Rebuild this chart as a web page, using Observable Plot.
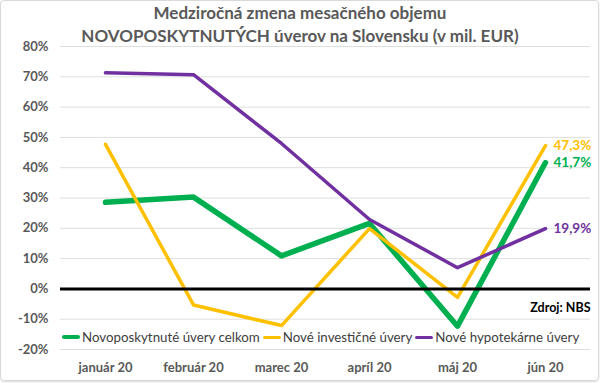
<!DOCTYPE html>
<html><head><meta charset="utf-8">
<script src="https://cdn.jsdelivr.net/npm/d3@7"></script>
<script src="https://cdn.jsdelivr.net/npm/@observablehq/plot@0.6"></script>
<style>
body{margin:0;background:#fff;font-family:Lato,sans-serif}
#wrap{position:relative;width:600px;height:383px;overflow:hidden;background:#fff}
#frame{position:absolute;left:0;top:0;width:597px;height:379px;border:1px solid #d9d9d9;border-radius:4px;box-shadow:0 1px 2px rgba(0,0,0,0.15);pointer-events:none}
#chart{position:absolute;left:0;top:0}
#title{position:absolute;left:0;top:1px;width:600px;text-align:center;font-weight:bold;font-size:17px;line-height:23px;color:#595959}
#legend{position:absolute;left:62px;top:329px;display:flex;align-items:center;font-size:13.3px;color:#404040;white-space:nowrap}
.item{display:flex;align-items:center;margin-right:3px}
.sw{display:inline-block;width:18px;border-radius:2px;margin-right:2px}
</style></head><body>
<div id="wrap"><div id="chart"></div><div id="title"></div><div id="legend"></div><div id="frame"></div></div>
<script>
const titleLines = ["Medziročná zmena mesačného objemu", "NOVOPOSKYTNUTÝCH úverov na Slovensku (v mil. EUR)"];
const months = ["január 20", "február 20", "marec 20", "apríl 20", "máj 20", "jún 20"];
const seriesNames = ["Novoposkytnuté úvery celkom", "Nové investičné úvery", "Nové hypotekárne úvery"];
const celkom = [28.6, 30.3, 10.9, 21.6, -12.3, 41.7];
const investicne = [47.7, -5.3, -12.1, 19.9, -2.8, 47.3];
const hypotekarne = [71.3, 70.7, 48.0, 22.9, 7.0, 19.9];
const yTicks = [-20, -10, 0, 10, 20, 30, 40, 50, 60, 70, 80];
const source = "Zdroj: NBS";

const colors = ["#00B050", "#FFC000", "#7030A0"];
const lineWidths = [5.5, 3.5, 3.5];
const values = [celkom, investicne, hypotekarne];

const rows = [];
seriesNames.forEach((s, i) => values[i].forEach((v, j) => rows.push({series: s, month: months[j], value: v})));
const last = months[months.length - 1];
const fmt = v => v.toFixed(1).replace(".", ",") + "%";

document.getElementById("title").innerHTML = titleLines.map(t => `<div>${t}</div>`).join("");
document.getElementById("legend").innerHTML = seriesNames.map((s, i) =>
  `<span class="item"><span class="sw" style="background:${colors[i]};height:${i === 0 ? 4 : 3}px"></span>${s}</span>`).join("");

const chart = Plot.plot({
  width: 600, height: 383,
  marginTop: 46, marginBottom: 34, marginLeft: 60, marginRight: 10,
  style: {fontFamily: "Lato, sans-serif", background: "transparent", overflow: "visible"},
  x: {type: "point", domain: months, padding: 0.5, label: null},
  y: {domain: [-20, 80], label: null},
  color: {domain: seriesNames, range: colors},
  marks: [
    Plot.ruleY(yTicks.filter(t => t !== 0), {stroke: "#dedede", strokeWidth: 1}),
    Plot.axisY({ticks: yTicks, tickSize: 0, tickPadding: 12, tickFormat: d => d + "%", fontWeight: "bold", fontSize: 13, fill: "#595959", label: null}),
    Plot.axisX({tickSize: 0, tickPadding: 13, fontWeight: "bold", fontSize: 13, fill: "#595959", label: null}),
    ...seriesNames.map((s, i) => Plot.line(rows.filter(d => d.series === s), {
      x: "month", y: "value", stroke: colors[i], strokeWidth: lineWidths[i], strokeLinejoin: "round", strokeLinecap: "round"
    })),
    Plot.ruleY([0], {stroke: "#000", strokeWidth: 3}),
    Plot.text(rows.filter(d => d.month === last), {
      x: "month", y: "value", text: d => fmt(d.value), fill: "series", dx: 8, textAnchor: "start", fontWeight: "bold", fontSize: 13.5
    }),
    Plot.text([source], {frameAnchor: "bottom-right", dy: -38, text: d => d, fontWeight: "bold", fontSize: 12.5, fill: "#000"})
  ]
});
document.getElementById("chart").appendChild(chart);
</script>
</body></html>
